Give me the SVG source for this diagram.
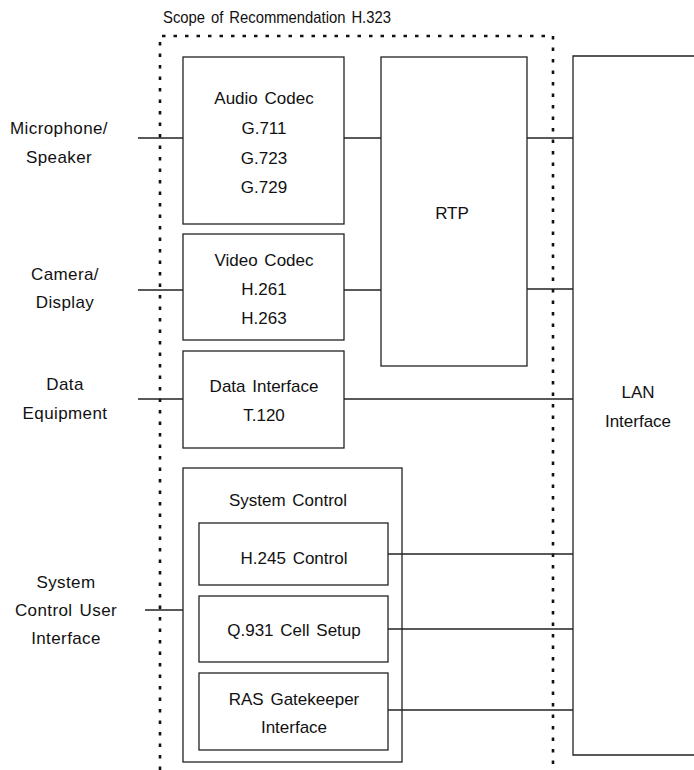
<svg xmlns="http://www.w3.org/2000/svg" width="694" height="770" viewBox="0 0 694 770">
<style>
.box{fill:none;stroke:#222;stroke-width:1.3}
.ln{fill:none;stroke:#222;stroke-width:1.3}
.scope{fill:none;stroke:#111;stroke-width:2.6;stroke-dasharray:3.5 8}
text{font-family:"Liberation Sans",Arial,sans-serif;font-size:17px;fill:#111;text-anchor:middle;word-spacing:2px}
.side{letter-spacing:0.4px}
.title{font-size:16.5px;word-spacing:2px}
</style>
<rect width="694" height="770" fill="#fff"/>
<g id="scope">
<path class="scope" d="M160,770 V36 H553 V770"/>
<text class="title" x="277" y="23" textLength="228" lengthAdjust="spacingAndGlyphs">Scope of Recommendation H.323</text>
</g>
<g id="connectors">
<path class="ln" d="M138,138 H183"/>
<path class="ln" d="M138,290 H183"/>
<path class="ln" d="M138,399 H183"/>
<path class="ln" d="M145,610 H183"/>
<path class="ln" d="M344,138 H381"/>
<path class="ln" d="M344,290 H381"/>
<path class="ln" d="M527,138 H573"/>
<path class="ln" d="M527,289 H573"/>
<path class="ln" d="M344,399 H573"/>
<path class="ln" d="M388,554 H573"/>
<path class="ln" d="M388,629 H573"/>
<path class="ln" d="M388,710 H573"/>
</g>
<g id="mic"><text class="side" x="59" y="134">Microphone/</text><text class="side" x="59" y="163">Speaker</text></g>
<g id="camera"><text class="side" x="65" y="280">Camera/</text><text class="side" x="65" y="308">Display</text></g>
<g id="data"><text class="side" x="65" y="390">Data</text><text class="side" x="65" y="419">Equipment</text></g>
<g id="sysui"><text class="side" x="66" y="588">System</text><text class="side" x="66" y="616">Control User</text><text class="side" x="66" y="644">Interface</text></g>
<g id="audio">
<rect class="box" x="183" y="57" width="161" height="167"/>
<text x="264" y="104">Audio Codec</text>
<text x="264" y="134">G.711</text>
<text x="264" y="164">G.723</text>
<text x="264" y="193">G.729</text>
</g>
<g id="video">
<rect class="box" x="183" y="234" width="161" height="106"/>
<text x="264" y="266">Video Codec</text>
<text x="264" y="295">H.261</text>
<text x="264" y="324">H.263</text>
</g>
<g id="datai">
<rect class="box" x="183" y="351" width="161" height="97"/>
<text x="264" y="392">Data Interface</text>
<text x="264" y="421">T.120</text>
</g>
<g id="rtp">
<rect class="box" x="381" y="57" width="146" height="309"/>
<text x="452" y="219">RTP</text>
</g>
<g id="lan">
<path class="box" d="M694,56 H573 V755 H694"/>
<text x="638" y="398">LAN</text>
<text x="638" y="427">Interface</text>
</g>
<g id="sysctl">
<rect class="box" x="183" y="468" width="219" height="294"/>
<text x="288" y="506">System Control</text>
</g>
<g id="h245">
<rect class="box" x="199" y="523" width="189" height="62"/>
<text x="294" y="564">H.245 Control</text>
</g>
<g id="q931">
<rect class="box" x="199" y="596" width="189" height="66"/>
<text x="294" y="636">Q.931 Cell Setup</text>
</g>
<g id="ras">
<rect class="box" x="199" y="673" width="189" height="77"/>
<text x="294" y="705">RAS Gatekeeper</text>
<text x="294" y="733">Interface</text>
</g>
</svg>
